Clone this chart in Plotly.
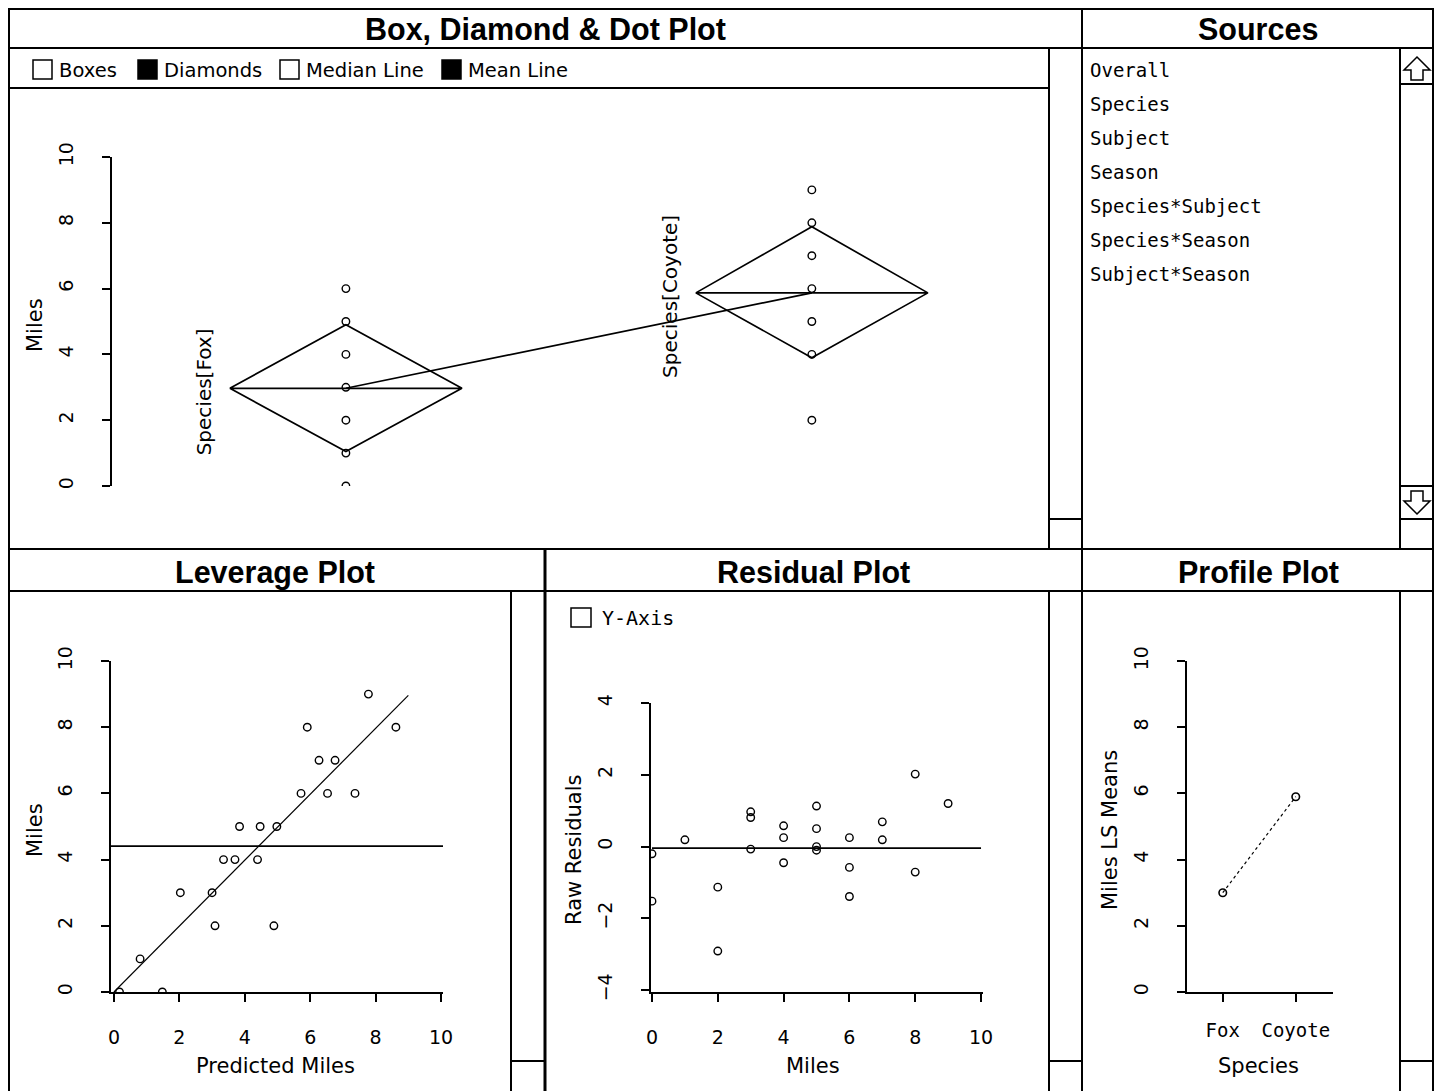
import plotly.graph_objects as go

W, H = 1440, 1091
FONT = "DejaVu Sans"
MONO = "DejaVu Sans Mono"
TITLE_FONT = "Liberation Sans, Arial, DejaVu Sans"

# ---------------- data ----------------
species = ["Fox", "Coyote"]
fox_miles = [6, 5, 4, 3, 2, 1, 0]
coyote_miles = [9, 8, 7, 6, 5, 4, 2]
species_mean = [2.97, 5.87]
diamond_upper = [4.90, 7.88]
diamond_lower = [1.05, 3.90]

lev_pred = [0.17, 0.80, 1.48, 2.03, 3.00, 3.09, 3.35, 3.70, 3.84, 4.39, 4.47,
            4.98, 4.89, 5.72, 5.91, 6.27, 6.53, 6.76, 7.37, 7.78, 8.62]
lev_miles = [0, 1, 0, 3, 3, 2, 4, 4, 5, 4, 5, 5, 2, 6, 8, 7, 6, 7, 6, 9, 8]
lev_mean = 4.41
lev_fit_x = [0, 9.0]
lev_fit_y = [0, 8.96]

res_miles = [0, 0, 1, 2, 2, 3, 3, 3, 4, 4, 4, 5, 5, 5, 5, 6, 6, 6, 7, 7, 8, 8, 9]
res_raw = [-0.20, -1.52, 0.19, -1.13, -2.91, 0.97, 0.81, -0.07, 0.58, 0.25, -0.45,
           1.13, 0.50, 0.00, -0.10, 0.25, -0.58, -1.39, 0.69, 0.19, 2.02, -0.71, 1.20]
res_zero = -0.04

profile_means = [3.0, 5.9]

sources = ["Overall", "Species", "Subject", "Season",
           "Species*Subject", "Species*Season", "Subject*Season"]
options = ["Boxes", "Diamonds", "Median Line", "Mean Line"]
options_checked = [False, True, False, True]

ticks10 = [0, 2, 4, 6, 8, 10]
ticks_res = [-4, -2, 0, 2, 4]

# ---------------- helpers ----------------
def px(x):
    return x / W


def py(y):
    return 1 - y / H


shapes = []
annotations = []


def hline(x0, x1, y, w=2):
    shapes.append(dict(type="line", xref="paper", yref="paper",
                       x0=px(x0), x1=px(x1), y0=py(y), y1=py(y),
                       line=dict(color="black", width=w)))


def vline(x, y0, y1, w=2):
    shapes.append(dict(type="line", xref="paper", yref="paper",
                       x0=px(x), x1=px(x), y0=py(y0), y1=py(y1),
                       line=dict(color="black", width=w)))


def rect(x0, y0, x1, y1, fill="white", w=1.5):
    shapes.append(dict(type="rect", xref="paper", yref="paper",
                       x0=px(x0), x1=px(x1), y0=py(y0), y1=py(y1),
                       fillcolor=fill, line=dict(color="black", width=w)))


def text(x, y, s, size=21, xanchor="center", angle=0, bold=False, family=FONT):
    annotations.append(dict(xref="paper", yref="paper", x=px(x), y=py(y),
                            text=("<b>%s</b>" % s) if bold else s,
                            showarrow=False, xanchor=xanchor, yanchor="middle",
                            textangle=angle,
                            font=dict(family=family, size=size, color="black")))


# ---------------- window chrome ----------------
rect(9, 9, 1433, 1095, fill="rgba(0,0,0,0)", w=2)
hline(9, 1433, 48)
vline(1082, 9, 548)
hline(9, 1049, 88)
vline(1049, 48, 548)
hline(1049, 1082, 519)
# sources scrollbar
vline(1400, 48, 548)
hline(1400, 1433, 84)
hline(1400, 1433, 486)
hline(1400, 1433, 519)
shapes.append(dict(type="path", xref="paper", yref="paper",
                   path="M %f %f L %f %f L %f %f L %f %f L %f %f L %f %f L %f %f Z" % (
                       px(1417), py(57), px(1430), py(70), px(1423), py(70), px(1423), py(80),
                       px(1411), py(80), px(1411), py(70), px(1404), py(70)),
                   line=dict(color="black", width=1.5), fillcolor="white"))
shapes.append(dict(type="path", xref="paper", yref="paper",
                   path="M %f %f L %f %f L %f %f L %f %f L %f %f L %f %f L %f %f Z" % (
                       px(1417), py(514), px(1430), py(501), px(1423), py(501), px(1423), py(491),
                       px(1411), py(491), px(1411), py(501), px(1404), py(501)),
                   line=dict(color="black", width=1.5), fillcolor="white"))
# bottom row
hline(9, 1433, 549)
hline(9, 1433, 591)
vline(545, 549, 1095, w=3)
vline(1082, 549, 1095)
vline(511, 591, 1095)
hline(511, 545, 1061)
vline(1049, 591, 1095)
hline(1049, 1082, 1061)
vline(1400, 591, 1095)
hline(1400, 1433, 1061)

# titles
for tx, ty, s in [(545, 29, "Box, Diamond &amp; Dot Plot"), (1258, 29, "Sources"),
                  (275, 572, "Leverage Plot"), (813, 572, "Residual Plot"),
                  (1258, 572, "Profile Plot")]:
    text(tx, ty, s, size=30.5, bold=True, family=TITLE_FONT)

# option checkboxes
box_x = [33, 138, 280, 442]
for bx, label, chk in zip(box_x, options, options_checked):
    rect(bx, 60, bx + 19, 79, fill="black" if chk else "white", w=1.5)
    text(bx + 24, 70, label, size=19.5, xanchor="left")

# Y-Axis checkbox in residual plot
rect(571, 608, 591, 627, fill="white", w=1.5)
text(600, 618, "Y-Axis", size=20, xanchor="left", family=MONO)

# sources list
for i, s in enumerate(sources):
    text(1088, 70 + 34 * i, s, size=19, xanchor="left", family=MONO)

# axis titles
text(35, 325, "Miles", angle=-90)
text(35, 830, "Miles", angle=-90)
text(275, 1066, "Predicted Miles")
text(574, 850, "Raw Residuals", angle=-90)
text(813, 1066, "Miles")
text(1110, 830, "Miles LS Means", angle=-90)
text(1258, 1066, "Species")

# ---------------- figure ----------------
fig = go.Figure()
mk = dict(symbol="circle-open", size=7.5, color="black", line=dict(width=1.4, color="black"))

# top: box / diamond / dot plot (Fox at x=1, Coyote at x=2)
fig.add_trace(go.Scatter(x=[1] * len(fox_miles), y=fox_miles, mode="markers",
                         marker=mk, xaxis="x", yaxis="y"))
fig.add_trace(go.Scatter(x=[2] * len(coyote_miles), y=coyote_miles, mode="markers",
                         marker=mk, xaxis="x", yaxis="y"))
hw = 0.249
for i in range(2):
    cx = i + 1
    fig.add_trace(go.Scatter(
        x=[cx - hw, cx, cx + hw, cx, cx - hw, cx + hw],
        y=[species_mean[i], diamond_upper[i], species_mean[i], diamond_lower[i],
           species_mean[i], species_mean[i]],
        mode="lines", line=dict(color="black", width=1.7), xaxis="x", yaxis="y"))
    annotations.append(dict(xref="x", yref="y", x=cx - 0.305, y=species_mean[i] - 0.1,
                            text="Species[%s]" % species[i], showarrow=False,
                            textangle=-90, xanchor="center", yanchor="middle",
                            font=dict(family=FONT, size=20, color="black")))
fig.add_trace(go.Scatter(x=[1, 2], y=species_mean, mode="lines",
                         line=dict(color="black", width=1.7), xaxis="x", yaxis="y"))

# leverage plot
fig.add_trace(go.Scatter(x=lev_pred, y=lev_miles, mode="markers", marker=mk,
                         xaxis="x2", yaxis="y2"))
fig.add_trace(go.Scatter(x=lev_fit_x, y=lev_fit_y, mode="lines",
                         line=dict(color="black", width=1.2), xaxis="x2", yaxis="y2"))
shapes.append(dict(type="line", xref="x2 domain", yref="y2", x0=0, x1=1,
                   y0=lev_mean, y1=lev_mean, line=dict(color="black", width=1.8)))

# residual plot
fig.add_trace(go.Scatter(x=res_miles, y=res_raw, mode="markers", marker=mk,
                         xaxis="x3", yaxis="y3"))
shapes.append(dict(type="line", xref="x3", yref="y3", x0=0, x1=10,
                   y0=res_zero, y1=res_zero, line=dict(color="black", width=1.8)))

# profile plot
fig.add_trace(go.Scatter(x=species, y=profile_means, mode="lines+markers",
                         marker=dict(symbol="circle-open", size=7.5, color="black",
                                     line=dict(width=1.6, color="black")),
                         line=dict(color="black", width=1.2, dash="dot"),
                         xaxis="x4", yaxis="y4"))

ax = dict(showline=True, linecolor="black", linewidth=2, ticks="outside", ticklen=8,
          tickwidth=2, tickcolor="black", showgrid=False, zeroline=False,
          tickfont=dict(family=FONT, size=19, color="black"), fixedrange=True,
          automargin=False)
yax = dict(ax, tickangle=-90, ticklabelstandoff=21)
xax = dict(ax, ticklabelstandoff=19)

fig.update_layout(
    width=W, height=H, autosize=False,
    margin=dict(l=0, r=0, t=0, b=0, pad=0, autoexpand=False),
    paper_bgcolor="white", plot_bgcolor="rgba(0,0,0,0)", showlegend=False,
    xaxis=dict(domain=[px(112), px(1049)], range=[0.498, 2.509], visible=False,
               anchor="y", fixedrange=True),
    yaxis=dict(yax, domain=[py(486), py(157)], range=[0, 10], tickvals=ticks10,
               anchor="x"),
    xaxis2=dict(xax, domain=[px(111), px(443)], range=[-0.09, 10.06], tickvals=ticks10,
                anchor="y2"),
    yaxis2=dict(yax, domain=[py(992), py(661)], range=[0, 10], tickvals=ticks10,
                anchor="x2"),
    xaxis3=dict(xax, domain=[px(651), px(983)], range=[-0.03, 10.06], tickvals=ticks10,
                anchor="y3"),
    yaxis3=dict(yax, domain=[py(992), py(703)], range=[-4.05, 4], tickvals=ticks_res,
                anchor="x3"),
    xaxis4=dict(xax, domain=[px(1187), px(1333)], range=[-0.49, 1.51], type="category",
                anchor="y4", tickfont=dict(family=MONO, size=19, color="black"),
                ticklabelstandoff=12),
    yaxis4=dict(yax, domain=[py(992), py(661)], range=[0, 10], tickvals=ticks10,
                anchor="x4"),
    shapes=shapes, annotations=annotations,
)

fig.write_html("out.html", config={"displayModeBar": False},
               post_script="document.body.style.margin='0';document.body.style.overflow='hidden';")
